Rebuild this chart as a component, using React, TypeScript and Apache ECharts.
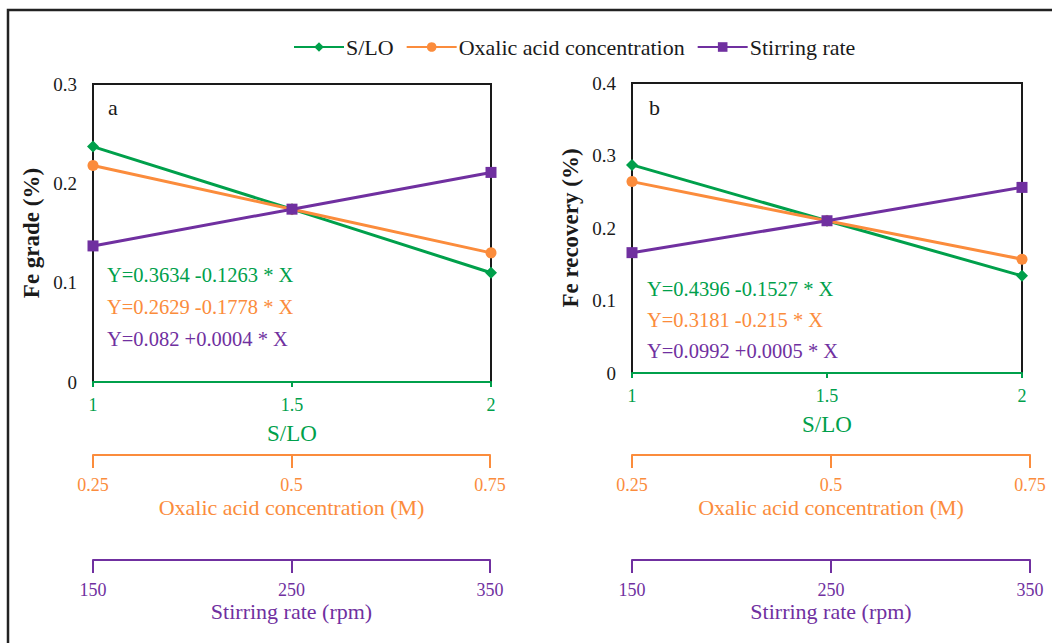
import React, { useEffect, useRef } from "react";
import * as echarts from "echarts";

const sloTicks = [1, 1.5, 2];
const oxalicTicks = [0.25, 0.5, 0.75];
const stirringTicks = [150, 250, 350];
const gradeTicks = [0, 0.1, 0.2, 0.3];
const recoveryTicks = [0, 0.1, 0.2, 0.3, 0.4];

const seriesNames = ["S/LO", "Oxalic acid concentration", "Stirring rate"];

const gradeSLO = [0.237, 0.174, 0.110];
const gradeOxalic = [0.218, 0.174, 0.130];
const gradeStirring = [0.137, 0.174, 0.211];

const recSLO = [0.287, 0.210, 0.134];
const recOxalic = [0.264, 0.210, 0.157];
const recStirring = [0.166, 0.210, 0.256];

const eqA = ["Y=0.3634 -0.1263 * X", "Y=0.2629 -0.1778 * X", "Y=0.082 +0.0004 * X"];
const eqB = ["Y=0.4396 -0.1527 * X", "Y=0.3181 -0.215 * X", "Y=0.0992 +0.0005 * X"];

const GREEN = "#00A04B";
const ORANGE = "#FB8C3C";
const PURPLE = "#7030A0";
const BLACK = "#1a1a1a";
const FONT = "'Liberation Serif', 'Times New Roman', serif";
const COLORS = [GREEN, ORANGE, PURPLE];
const SYMBOLS = ["diamond", "circle", "rect"];
const SYMSIZE = [12, 11, 11];

function mainX(gridIndex: number) {
  return {
    type: "value",
    gridIndex,
    min: sloTicks[0],
    max: sloTicks[sloTicks.length - 1],
    axisLine: { show: true, lineStyle: { color: GREEN, width: 2 } },
    axisTick: { show: true, length: 5, lineStyle: { color: GREEN, width: 2 }, customValues: sloTicks },
    axisLabel: { color: GREEN, fontSize: 18, fontFamily: FONT, margin: 14, customValues: sloTicks },
    splitLine: { show: false },
    name: "S/LO",
    nameLocation: "middle",
    nameGap: 40,
    nameTextStyle: { color: GREEN, fontSize: 23, fontFamily: FONT },
  };
}

function subX(gridIndex: number, ticks: number[], color: string, name: string, labelMargin: number, nameGap: number) {
  return {
    type: "value",
    gridIndex,
    min: ticks[0],
    max: ticks[ticks.length - 1],
    axisLine: { show: true, lineStyle: { color, width: 2 } },
    axisTick: { show: true, length: 13, lineStyle: { color, width: 2 }, customValues: ticks },
    axisLabel: { color, fontSize: 18, lineHeight: 16, fontFamily: FONT, margin: labelMargin, customValues: ticks },
    splitLine: { show: false },
    name,
    nameLocation: "middle",
    nameGap,
    nameMoveOverlap: false,
    nameTextStyle: { color, fontSize: 22, lineHeight: 18, fontFamily: FONT },
  };
}

function mainY(gridIndex: number, ticks: number[], name: string) {
  return {
    type: "value",
    gridIndex,
    min: ticks[0],
    max: ticks[ticks.length - 1],
    interval: 0.1,
    axisLine: { show: true, lineStyle: { color: BLACK, width: 2 } },
    axisTick: { show: false },
    axisLabel: { color: BLACK, fontSize: 19, fontFamily: FONT, margin: 16 },
    splitLine: { show: false },
    name,
    nameLocation: "middle",
    nameGap: 50,
    nameTextStyle: { color: BLACK, fontSize: 23, fontWeight: "bold", fontFamily: FONT },
  };
}

function hiddenY(gridIndex: number) {
  return { type: "value", gridIndex, min: 0, max: 1, show: false };
}

function makeSeries(xi: number, yi: number, values: number[][]) {
  return values.map((vals, k) => ({
    type: "line",
    name: seriesNames[k],
    xAxisIndex: xi,
    yAxisIndex: yi,
    data: vals.map((v, i) => [sloTicks[i], v]),
    symbol: SYMBOLS[k],
    symbolSize: SYMSIZE[k],
    lineStyle: { color: COLORS[k], width: 3 },
    itemStyle: { color: COLORS[k] },
    z: 2 + k,
  }));
}

function eqTexts(lines: string[], x: number, ys: number[]) {
  return lines.map((t, k) => ({
    type: "text",
    x,
    y: ys[k],
    style: { text: t, fill: COLORS[k], fontSize: 20.5, fontFamily: FONT, verticalAlign: "middle" },
  }));
}

export default function App() {
  const ref = useRef<HTMLDivElement>(null);
  useEffect(() => {
    if (!ref.current) return;
    const chart = echarts.init(ref.current, null, { renderer: "svg" });
    const option = {
      animation: false,
      backgroundColor: "#ffffff",
      legend: {
        data: seriesNames,
        left: 288,
        top: 31,
        itemWidth: 50,
        itemHeight: 12,
        itemGap: 12,
        textStyle: { color: BLACK, fontSize: 22, fontFamily: FONT, padding: [0, 0, 0, -3] },
      },
      grid: [
        { left: 93, top: 84, width: 398, height: 298, show: true, borderColor: BLACK, borderWidth: 2 },
        { left: 93, top: 454, width: 397, height: 1 },
        { left: 93, top: 559, width: 397, height: 1 },
        { left: 632, top: 83, width: 390, height: 290, show: true, borderColor: BLACK, borderWidth: 2 },
        { left: 632, top: 454, width: 398, height: 1 },
        { left: 632, top: 559, width: 398, height: 1 },
      ],
      xAxis: [
        mainX(0),
        subX(1, oxalicTicks, ORANGE, "Oxalic acid concentration (M)", 22, 43),
        subX(2, stirringTicks, PURPLE, "Stirring rate (rpm)", 22, 42),
        mainX(3),
        subX(4, oxalicTicks, ORANGE, "Oxalic acid concentration (M)", 22, 43),
        subX(5, stirringTicks, PURPLE, "Stirring rate (rpm)", 22, 42),
      ],
      yAxis: [
        mainY(0, gradeTicks, "Fe grade (%)"),
        hiddenY(1),
        hiddenY(2),
        mainY(3, recoveryTicks, "Fe recovery (%)"),
        hiddenY(4),
        hiddenY(5),
      ],
      series: [
        ...makeSeries(0, 0, [gradeSLO, gradeOxalic, gradeStirring]),
        ...makeSeries(3, 3, [recSLO, recOxalic, recStirring]),
      ],
      graphic: [
        {
          type: "rect",
          shape: { x: 8, y: 10, width: 1100, height: 700 },
          style: { fill: "none", stroke: "#222", lineWidth: 2.5 },
          silent: true,
        },
        { type: "text", x: 108, y: 107, style: { text: "a", fill: BLACK, fontSize: 22, fontFamily: FONT, verticalAlign: "middle" } },
        { type: "text", x: 649, y: 107, style: { text: "b", fill: BLACK, fontSize: 22, fontFamily: FONT, verticalAlign: "middle" } },
        ...eqTexts(eqA, 107, [275, 307, 339]),
        ...eqTexts(eqB, 647, [289, 320, 351]),
      ],
    };
    chart.setOption(option as any);
    return () => chart.dispose();
  }, []);
  return (
    <div
      ref={ref}
      style={{ position: "absolute", left: 0, top: 0, width: 1052, height: 643 }}
    />
  );
}
